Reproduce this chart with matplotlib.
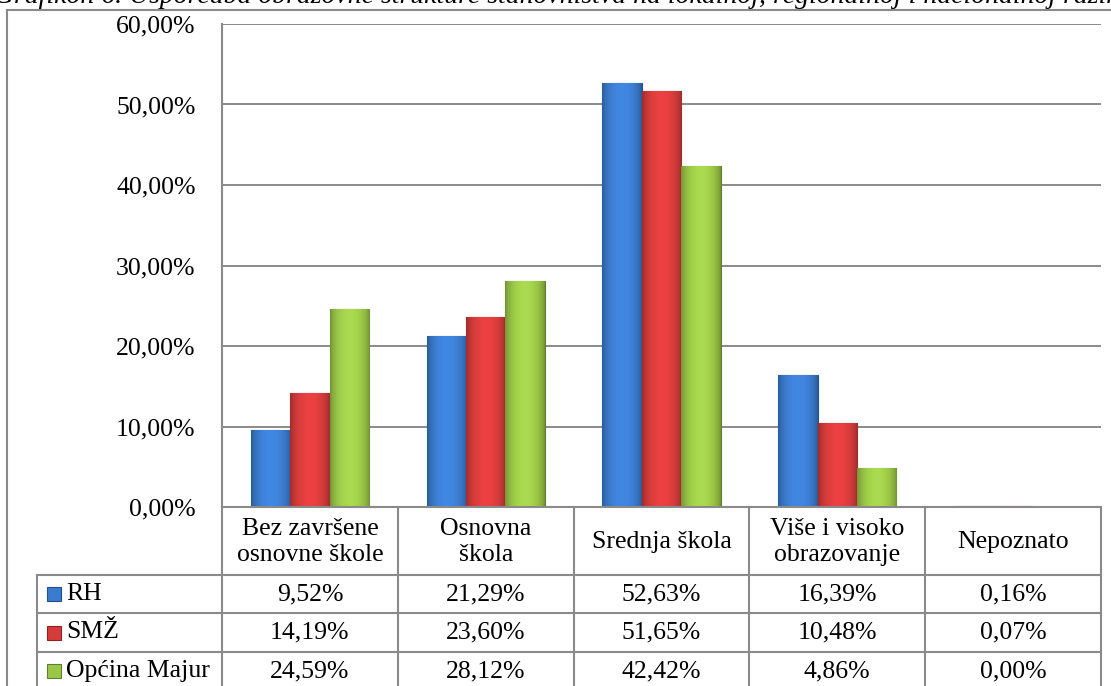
import matplotlib
matplotlib.use('Agg')
import matplotlib.pyplot as plt
import numpy as np
from matplotlib.lines import Line2D
from matplotlib.patches import Rectangle
from matplotlib.colors import to_rgb

categories = ["Bez završene\nosnovne škole", "Osnovna\nškola", "Srednja škola",
              "Više i visoko\nobrazovanje", "Nepoznato"]
series_names = ["RH", "SMŽ", "Općina Majur"]
rh = [9.52, 21.29, 52.63, 16.39, 0.16]
smz = [14.19, 23.60, 51.65, 10.48, 0.07]
majur = [24.59, 28.12, 42.42, 4.86, 0.00]
yticks = [0, 10, 20, 30, 40, 50, 60]
title = ("Grafikon 6. Usporedba obrazovne strukture stanovništva na lokalnoj, "
         "regionalnoj i nacionalnoj razini")

series = [rh, smz, majur]
colors = ['#3b7bce', '#d63b3b', '#9bc748']
edges = ['#23508c', '#8e2222', '#5f7f28']

plt.rcParams['font.family'] = ['Liberation Serif', 'DejaVu Serif']
FS = 18.5

W, H = 1111, 686
fig = plt.figure(figsize=(W / 100, H / 100), dpi=100)


def fx(px):
    return px / W


def fy(py):
    return 1 - py / H


L, R, T, B = 222, 1101, 24, 507
ax = fig.add_axes([fx(L), fy(B), (R - L) / W, (B - T) / H])
ax.set_xlim(-0.5, len(categories) - 0.5)
ax.set_ylim(0, 60)
ax.set_yticks(yticks)
ax.set_yticklabels([f"{v:.2f}%".replace('.', ',') for v in yticks], fontsize=FS)
ax.tick_params(axis='y', length=0, pad=19)
ax.set_xticks([])
for s in ['top', 'right', 'bottom']:
    ax.spines[s].set_visible(False)
ax.spines['left'].set_color('#8a8a8a')
ax.spines['left'].set_linewidth(1.5)
ax.yaxis.grid(True, color='#8a8a8a', linewidth=1.4)
ax.set_axisbelow(True)

bw = 0.224
x = np.arange(len(categories))
prof = np.linspace(0, 1, 64)
shade = 0.72 + 0.38 * np.sin(np.pi * prof) ** 0.6
for i, (vals, c, e) in enumerate(zip(series, colors, edges)):
    bars = ax.bar(x + (i - 1) * bw, vals, width=bw, color=c, edgecolor=e,
                  linewidth=0.8, zorder=3)
    base = np.array(to_rgb(c))
    img = np.clip(base[None, None, :] * shade[None, :, None], 0, 1)
    for b in bars:
        h = b.get_height()
        if h <= 0:
            continue
        x0 = b.get_x()
        im = ax.imshow(img, extent=(x0, x0 + b.get_width(), 0, h), aspect='auto',
                       zorder=3.5, interpolation='bicubic')
        im.set_clip_path(b)
ax.set_xlim(-0.5, len(categories) - 0.5)
ax.set_ylim(0, 60)

# ---- table & frame (figure pixel layout) ----
gc = '#8a8a8a'


def hline(y, x0, x1, lw=1.5):
    fig.add_artist(Line2D([fx(x0), fx(x1)], [fy(y), fy(y)], color=gc, lw=lw))


def vline(xp, y0, y1, lw=1.5):
    fig.add_artist(Line2D([fx(xp), fx(xp)], [fy(y0), fy(y1)], color=gc, lw=lw))


col_edges = [ax.transData.transform((k - 0.5, 0))[0] for k in range(len(categories) + 1)]
col_mid = [ax.transData.transform((k, 0))[0] for k in range(len(categories))]
rows = [575, 613, 652, 690]
legL = 37

# outer frame
hline(10, 7, W)
vline(7, 10, H)

hline(B, L, R)
for y in rows[:3]:
    hline(y, legL, R)
for xe in col_edges:
    vline(xe, B, H)
vline(legL, rows[0], H)

# header
for k, cat in enumerate(categories):
    fig.text(fx(col_mid[k]), fy((B + rows[0]) / 2 + 1), cat, ha='center', va='center',
             fontsize=FS, linespacing=1.2)

# rows
for r, (name, vals, c, e) in enumerate(zip(series_names, series, colors, edges)):
    ymid = (rows[r] + rows[r + 1]) / 2
    fig.add_artist(Rectangle((fx(47), fy(ymid + 7)), 14 / W, 14 / H,
                             facecolor=c, edgecolor=e, lw=0.8))
    fig.text(fx(66), fy(ymid), name, ha='left', va='center', fontsize=FS)
    for k, v in enumerate(vals):
        fig.text(fx(col_mid[k]), fy(ymid), f"{v:.2f}%".replace('.', ','),
                 ha='center', va='center', fontsize=FS)

# title (partly cut at top, as in the source)
fig.text(fx(-6), fy(3), title, ha='left', va='baseline', fontsize=20,
         style='italic', color='black')

fig.savefig('out.png', dpi=100)
